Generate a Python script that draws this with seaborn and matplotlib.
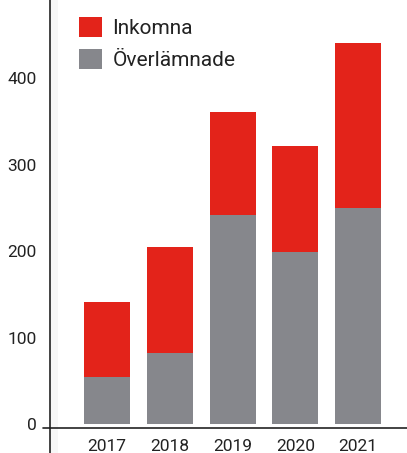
import pandas as pd
import matplotlib.pyplot as plt
import seaborn as sns

# values
years = ["2017", "2018", "2019", "2020", "2021"]
inkomna = [141, 205, 361, 322, 441]
overlamnade = [54, 82, 242, 199, 250]

RED = "#E3231A"
GRAY = "#86878C"
TEXT = "#222222"

df = pd.DataFrame({"year": years, "Inkomna": inkomna, "Överlämnade": overlamnade})

sns.set_style("white")
plt.rcParams["font.family"] = ["Roboto", "DejaVu Sans"]

fig = plt.figure(figsize=(4.07, 4.53), dpi=100)
ax = fig.add_axes([50 / 407, 0, 357 / 407, 1])

sns.barplot(data=df, x="year", y="Inkomna", color=RED, width=0.733,
            saturation=1, linewidth=0, ax=ax, label="Inkomna")
sns.barplot(data=df, x="year", y="Överlämnade", color=GRAY, width=0.733,
            saturation=1, linewidth=0, ax=ax, label="Överlämnade")

ax.set_xlim(-0.908, 4.78)
ax.set_ylim(-33.6, 490.7)
ax.set_yticks([0, 100, 200, 300, 400])
ax.set_xlabel("")
ax.set_ylabel("")

# faint shadow along the y axis
ax.axvspan(-0.908, -0.78, color="#f7f7f7", lw=0, zorder=0)

for side in ["top", "right"]:
    ax.spines[side].set_visible(False)
ax.spines["left"].set_color(TEXT)
ax.spines["left"].set_linewidth(1.2)
ax.spines["bottom"].set_position(("data", -4.6))
ax.spines["bottom"].set_color(TEXT)
ax.spines["bottom"].set_linewidth(1.2)
# small stub of the base line left of the y axis
ax.axhline(-4.6, xmin=-0.02, xmax=0, color=TEXT, lw=1.2, clip_on=False)

ax.tick_params(axis="both", length=0, labelsize=12.5, labelcolor=TEXT)
ax.tick_params(axis="y", pad=9.5)
ax.tick_params(axis="x", pad=8)

ax.legend(loc="upper left", bbox_to_anchor=(0.081, 0.963), frameon=False,
          fontsize=15, handlelength=1.1, handleheight=1.1, handletextpad=0.5,
          labelspacing=0.55, borderpad=0, borderaxespad=0, labelcolor=TEXT)

fig.savefig("out.png", dpi=100)
